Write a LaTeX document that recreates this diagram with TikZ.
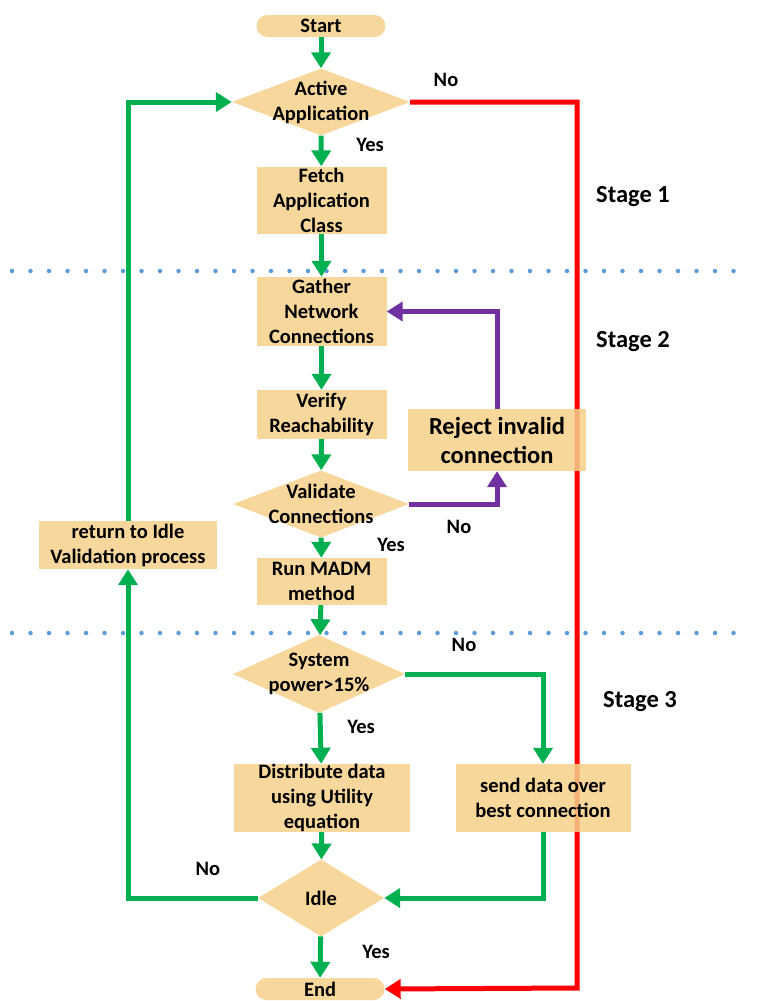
\documentclass[tikz,border=0pt]{standalone}
\usepackage{fontspec}
\setmainfont{Carlito}
\usetikzlibrary{arrows.meta,shapes.geometric}
\definecolor{boxfill}{HTML}{F7D79B}
\definecolor{boxdeep}{HTML}{F6D089}
\definecolor{flowgreen}{HTML}{00B050}
\definecolor{flowred}{HTML}{FF0000}
\definecolor{flowpurple}{HTML}{7030A0}
\definecolor{dotblue}{HTML}{5B9BD5}
\newcommand{\boxfont}{\fontsize{20.5}{25}\selectfont\bfseries}
\tikzset{
  box/.style={fill=boxfill, inner sep=0pt, align=center, font=\boxfont},
  seethrough/.style={fill=boxdeep, fill opacity=0.85, text opacity=1},
  terminal/.style={box, rounded corners=11pt, minimum width=129pt, minimum height=22pt},
  decision/.style={diamond, fill=boxfill, inner sep=0pt},
  dtext/.style={align=center, font=\boxfont},
  flow/.style={line width=5pt, -{Triangle[width=19pt,length=16pt]}},
  gflow/.style={flow, draw=flowgreen},
  pflow/.style={flow, draw=flowpurple},
  rflow/.style={flow, draw=flowred},
  answer/.style={font=\fontsize{20.5}{24}\selectfont\bfseries},
  stage/.style={font=\fontsize{24.5}{28}\selectfont\bfseries},
  separator/.style={draw=dotblue, line width=4.5pt, line cap=round, dash pattern=on 0pt off 18.5pt}
}
\begin{document}
\begin{tikzpicture}[x=1pt, y=-1pt]
\useasboundingbox[fill=white] (0,0) rectangle (756,1001);

% stage separators
\draw[separator] (12,271) -- (750,271);
\draw[separator] (12,633) -- (750,633);

% terminals
\node[terminal] (start) at (321,26) {Start};
\node[terminal] (end) at (320,989) {End};

% decisions
\node[decision, minimum width=178pt, minimum height=67pt,
      label={[dtext]center:Active\\Application}] (act) at (321,102) {};
\node[decision, minimum width=176pt, minimum height=67pt,
      label={[dtext]center:Validate\\Connections}] (val) at (321,504) {};
\node[decision, minimum width=172pt, minimum height=78pt,
      label={[dtext]center:System\\power>15\%}] (sys) at (319,674) {};
\node[decision, minimum width=126pt, minimum height=77pt,
      label={[dtext]center:Idle}] (idle) at (321,898) {};

% red path to End, drawn below the boxes
\coordinate (rc) at (577,988);
\draw[rflow] (act.east) -| (rc) -- (end.east);

% process boxes
\node[box, minimum width=130pt, minimum height=67pt] (fetch) at (321.5,200) {Fetch\\Application\\Class};
\node[box, minimum width=130pt, minimum height=69pt] (gather) at (321.5,311.5) {Gather\\Network\\Connections};
\node[box, minimum width=130pt, minimum height=49pt] (verify) at (321.5,414.5) {Verify\\Reachability};
\node[box, seethrough, minimum width=178pt, minimum height=62pt,
      font=\fontsize{24.5}{29}\selectfont\bfseries] (reject) at (497,440) {Reject invalid\\connection};
\node[box, minimum width=130pt, minimum height=47pt] (run) at (321.5,581.5) {Run MADM\\method};
\node[box, minimum width=176pt, minimum height=68pt] (dist) at (322,798) {Distribute data\\using Utility\\equation};
\node[box, seethrough, minimum width=175pt, minimum height=68pt] (send) at (543,798) {send data over\\best connection};
\node[box, minimum width=178pt, minimum height=48pt] (ret) at (128,545) {return to Idle\\Validation process};

% main flow
\draw[gflow] (start) -- (act);
\draw[gflow] (act) -- (fetch);
\draw[gflow] (fetch) -- (gather);
\draw[gflow] (gather) -- (verify);
\draw[gflow] (verify) -- (val);
\draw[gflow] (val) -- (run);
\draw[gflow] (run) -- (sys);
\draw[gflow] (sys) -- (dist);
\draw[gflow] (dist) -- (idle);
\draw[gflow] (idle) -- (end);

% branches
\draw[gflow] (sys.east) -| (send.north);
\draw[gflow] (send.south) |- (idle.east);
\draw[gflow] (idle.west) -| (ret.south);
\draw[gflow] (ret.north) |- (act.west);
\draw[pflow] (val.east) -| (reject.south);
\draw[pflow] (reject.north) |- (gather.east);

% answers
\node[answer] (a1) at (446,80) {No};
\node[answer] (a2) at (370,145) {Yes};
\node[answer] (a3) at (459,527) {No};
\node[answer] (a4) at (391,545) {Yes};
\node[answer] (a5) at (464,645) {No};
\node[answer] (a6) at (361,727) {Yes};
\node[answer] (a7) at (208,869) {No};
\node[answer] (a8) at (376,952) {Yes};

% stage labels
\node[stage] (s1) at (633,197) {Stage 1};
\node[stage] (s2) at (633,342) {Stage 2};
\node[stage] (s3) at (640,702) {Stage 3};
\end{tikzpicture}
\end{document}
